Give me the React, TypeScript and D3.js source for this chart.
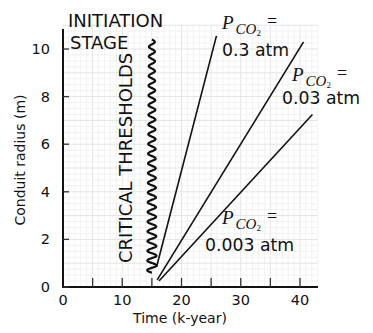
import React from "react";
import * as d3 from "d3";

const xTicks = [0, 10, 20, 30, 40];
const xMinorTicks = [5, 10, 15, 20, 25, 30, 35, 40];
const yTicks = [0, 2, 4, 6, 8, 10];

// growth lines: [startTime, startRadius, endTime, endRadius]
const pco2Labels = ["0.3 atm", "0.03 atm", "0.003 atm"];
const startTime = [15.8, 15.9, 16.2];
const startRadius = [0.85, 0.3, 0.25];
const endTime = [25.9, 40.6, 42.1];
const endRadius = [10.55, 10.3, 7.25];

// critical thresholds squiggle
const thresholdTime = 15;
const thresholdRange = [0.6, 10.4];
const thresholdWaves = 24;

const W = 373;
const H = 333;
const FONT = "'DejaVu Sans', Verdana, sans-serif";
const SERIF = "'Liberation Serif', 'Times New Roman', serif";

const x = d3.scaleLinear().domain([0, 40]).range([63, 300]);
const y = d3.scaleLinear().domain([0, 10]).range([287, 49]);

function PLabel({ px, py }: { px: number; py: number }) {
  return (
    <g fontFamily={SERIF} fontStyle="italic" fill="#111">
      <text x={px} y={py} fontSize={19}>
        P
        <tspan dx={2} dy={5} fontSize={15}>CO</tspan>
        <tspan dy={2} fontSize={9} fontStyle="normal">2</tspan>
      </text>
      <text x={px + 45} y={py - 2} fontSize={18} fontStyle="normal">=</text>
    </g>
  );
}

export default function App() {
  const gridX = d3.range(0, 43.01, 1);
  const gridY = d3.range(0, 11.01, 0.25);

  const ySq0 = y(thresholdRange[0]);
  const ySq1 = y(thresholdRange[1]);
  const cx = x(thresholdTime);
  const steps = thresholdWaves * 16;
  const sqPts: [number, number][] = d3.range(steps + 1).map((i) => {
    const t = i / steps;
    const amp = 3 + 1.8 * t;
    return [cx + amp * Math.sin(2 * Math.PI * thresholdWaves * t), ySq1 + (ySq0 - ySq1) * t];
  });
  const sqPath = d3.line().curve(d3.curveBasis)(sqPts) || "";

  const labelPos = [
    { px: 222, py: 29, tx: 222, ty: 56 },
    { px: 292, py: 81, tx: 282, ty: 104 },
    { px: 222, py: 224, tx: 205, ty: 251 },
  ];

  return (
    <svg width={W} height={H} style={{ position: "absolute", left: 0, top: 0, background: "#fff" }}>
      <rect width={W} height={H} fill="#fff" />
      <g>
        {gridX.map((v) => (
          <line key={"gx" + v} x1={x(v)} x2={x(v)} y1={y(11)} y2={y(0)}
            stroke={v % 5 === 0 ? "#e4e4e4" : "#f2f2f2"} strokeWidth={1} />
        ))}
        {gridY.map((v) => (
          <line key={"gy" + v} x1={x(0)} x2={x(43)} y1={y(v)} y2={y(v)}
            stroke={Math.abs(v % 1) < 1e-6 ? "#e4e4e4" : "#f2f2f2"} strokeWidth={1} />
        ))}
      </g>

      {/* axes */}
      <line x1={x(0)} x2={x(0)} y1={29} y2={y(0) + 1} stroke="#111" strokeWidth={2} />
      <line x1={x(0) - 1} x2={318} y1={y(0)} y2={y(0)} stroke="#111" strokeWidth={2} />
      {xMinorTicks.map((v) => (
        <line key={"xt" + v} x1={x(v)} x2={x(v)} y1={y(0)} y2={y(0) - 9} stroke="#333" strokeWidth={1.3} />
      ))}
      {yTicks.map((v) => (
        <line key={"yt" + v} x1={x(0)} x2={x(0) + 6} y1={y(v)} y2={y(v)} stroke="#333" strokeWidth={1.3} />
      ))}
      {xTicks.map((v) => (
        <text key={"xl" + v} x={x(v)} y={305} textAnchor="middle" fontFamily={FONT} fontSize={14.5} fill="#111">{v}</text>
      ))}
      {yTicks.map((v) => (
        <text key={"yl" + v} x={50} y={y(v) + 5} textAnchor="end" fontFamily={FONT} fontSize={14.5} fill="#111">{v}</text>
      ))}
      <text x={180} y={323} textAnchor="middle" fontFamily={FONT} fontSize={14} fill="#111">Time (k-year)</text>
      <text transform="translate(25,160) rotate(-90)" textAnchor="middle" fontFamily={FONT} fontSize={14} fill="#111">Conduit radius (m)</text>

      {/* annotations */}
      <text x={68} y={27} fontFamily={FONT} fontSize={18} fill="#111">INITIATION</text>
      <text x={70} y={49} fontFamily={FONT} fontSize={18} fill="#111">STAGE</text>
      <text transform="translate(132,263) rotate(-90)" fontFamily={FONT} fontSize={18} fill="#111">CRITICAL THRESHOLDS</text>

      <path d={sqPath} fill="none" stroke="#111" strokeWidth={2.2} />

      {pco2Labels.map((lab, i) => (
        <line key={"ln" + i} x1={x(startTime[i])} y1={y(startRadius[i])} x2={x(endTime[i])} y2={y(endRadius[i])}
          stroke="#111" strokeWidth={1.6} />
      ))}
      {pco2Labels.map((lab, i) => (
        <g key={"lb" + i}>
          <PLabel px={labelPos[i].px} py={labelPos[i].py} />
          <text x={labelPos[i].tx} y={labelPos[i].ty} fontFamily={FONT} fontSize={17.3} fill="#111">{lab}</text>
        </g>
      ))}
    </svg>
  );
}
